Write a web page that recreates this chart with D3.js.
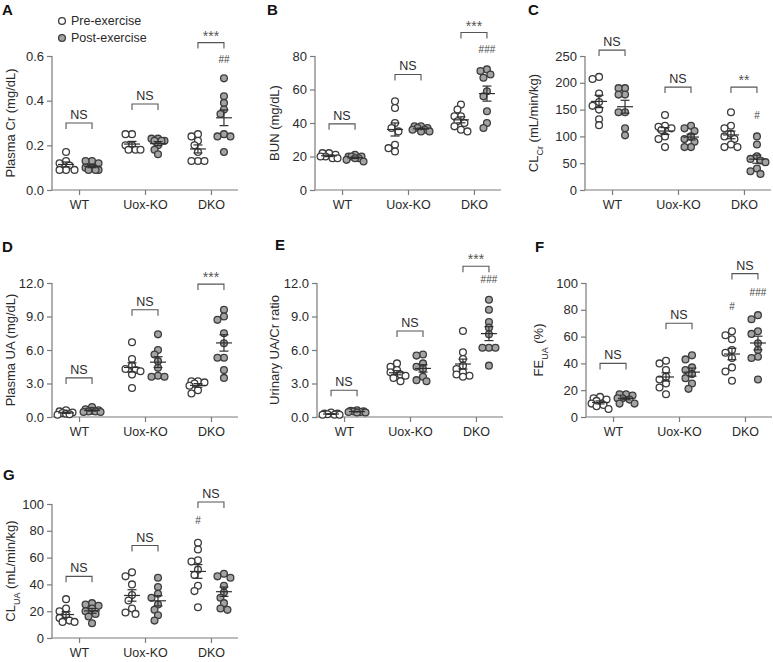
<!DOCTYPE html>
<html>
<head>
<meta charset="utf-8">
<script src="https://cdn.jsdelivr.net/npm/d3@7"></script>
<style>
  body { margin: 0; background: #fff; }
  svg { display: block; font-family: "Liberation Sans", Arial, Helvetica, sans-serif; }
</style>
</head>
<body>
<svg id="chart" width="773" height="662"></svg>
<script>
// ---------------- DATA ----------------
const categories = ["WT", "Uox-KO", "DKO"];
const groups = ["Pre-exercise", "Post-exercise"];

// A: Plasma Cr (mg/dL)
const crPre  = [[0.17, 0.13, 0.12, 0.11, 0.09, 0.09, 0.09],
                [0.25, 0.25, 0.20, 0.20, 0.18, 0.18, 0.18],
                [0.25, 0.24, 0.22, 0.20, 0.17, 0.13, 0.13, 0.13]];
const crPost = [[0.13, 0.13, 0.12, 0.10, 0.10, 0.09, 0.09, 0.09],
                [0.23, 0.23, 0.22, 0.22, 0.22, 0.20, 0.18, 0.16],
                [0.50, 0.42, 0.39, 0.36, 0.34, 0.25, 0.24, 0.24, 0.17]];
// B: BUN (mg/dL)
const bunPre  = [[22, 22, 21, 20, 20, 19, 19],
                 [53, 49, 40, 37, 35, 27, 25, 23],
                 [51, 48, 44, 44, 41, 40, 38, 36, 35]];
const bunPost = [[21, 20, 20, 20, 19, 19, 18, 17],
                 [38, 38, 37, 37, 36, 36, 35, 35],
                 [72, 71, 69, 67, 59, 56, 47, 40, 37]];
// C: CLCr (mL/min/kg)
const clcrPre  = [[211, 207, 180, 164, 157, 150, 132, 121],
                  [140, 120, 118, 115, 112, 100, 95, 80],
                  [145, 120, 115, 105, 100, 95, 85, 80, 80]];
const clcrPost = [[190, 190, 178, 178, 145, 145, 115, 102],
                  [120, 115, 110, 100, 95, 90, 80, 80],
                  [100, 85, 63, 58, 55, 52, 40, 35, 30]];
// D: Plasma UA (mg/dL)
const puaPre  = [[0.6, 0.5, 0.4, 0.35, 0.3, 0.25, 0.2],
                 [6.7, 5.2, 4.6, 4.3, 4.2, 4.1, 3.8, 2.6],
                 [3.2, 3.2, 3.1, 3.0, 2.8, 2.4, 2.1]];
const puaPost = [[0.9, 0.7, 0.6, 0.55, 0.5, 0.5, 0.45, 0.45],
                 [7.4, 6.0, 5.6, 5.0, 4.4, 3.7, 3.6, 3.6],
                 [9.6, 9.0, 8.7, 7.5, 6.6, 5.3, 5.3, 4.2, 3.5]];
// E: Urinary UA/Cr ratio
const uacrPre  = [[0.4, 0.3, 0.3, 0.25, 0.2, 0.2, 0.2],
                  [4.8, 4.5, 4.2, 4.0, 3.8, 3.7, 3.5, 3.2],
                  [7.7, 5.8, 5.2, 4.6, 4.3, 4.0, 3.8, 3.7, 3.6]];
const uacrPost = [[0.6, 0.55, 0.5, 0.5, 0.45, 0.45, 0.4, 0.4],
                  [5.6, 5.5, 4.8, 4.5, 4.3, 3.6, 3.3, 3.2],
                  [10.5, 9.6, 8.5, 8.0, 7.4, 6.2, 6.2, 6.2, 4.6]];
// F: FEUA (%)
const feuaPre  = [[15, 14, 13, 12, 10, 9, 8, 6],
                  [42, 40, 35, 30, 28, 25, 22, 17],
                  [64, 61, 58, 50, 48, 44, 37, 34, 27]];
const feuaPost = [[17, 17, 16, 14, 14, 13, 10, 10],
                  [46, 43, 37, 35, 32, 29, 25, 21],
                  [76, 73, 64, 62, 55, 50, 45, 44, 28]];
// G: CLUA (mL/min/kg)
const cluaPre  = [[29, 22, 20, 17, 15, 13, 12, 12],
                  [49, 46, 40, 32, 28, 22, 19, 18],
                  [71, 66, 58, 57, 51, 47, 39, 35, 23]];
const cluaPost = [[26, 25, 24, 22, 20, 18, 16, 11],
                  [45, 38, 33, 30, 25, 21, 17, 13],
                  [48, 46, 45, 39, 34, 30, 26, 22, 21]];

// tick labels
const ticksA = [0, 0.2, 0.4, 0.6];
const ticksB = [0, 20, 40, 60, 80];
const ticksC = [0, 50, 100, 150, 200, 250];
const ticksD = [0, 3, 6, 9, 12];
const ticksE = [0, 3, 6, 9, 12];
const ticksF = [0, 20, 40, 60, 80, 100];
const ticksG = [0, 20, 40, 60, 80, 100];

// significance annotations: [category index, bracket level (data units), label]
const sigA = [[0, 0.30, "NS"], [1, 0.385, "NS"], [2, 0.66, "***"]];
const sigB = [[0, 39.5, "NS"], [1, 69, "NS"], [2, 94, "***"]];
const sigC = [[0, 261, "NS"], [1, 192, "NS"], [2, 192, "**"]];
const sigD = [[0, 3.5, "NS"], [1, 9.6, "NS"], [2, 11.9, "***"]];
const sigE = [[0, 2.4, "NS"], [1, 7.7, "NS"], [2, 13.5, "***"]];
const sigF = [[0, 40, "NS"], [1, 70, "NS"], [2, 107, "NS"]];
const sigG = [[0, 46, "NS"], [1, 69, "NS"], [2, 101.5, "NS"]];
// hash marks vs WT: [category index, group index (0 pre / 1 post), level, label]
const hashA = [[2, 1, 0.57, "##"]];
const hashB = [[2, 1, 82, "###"]];
const hashC = [[2, 1, 132, "#"]];
const hashD = [];
const hashE = [[2, 1, 12.0, "###"]];
const hashF = [[2, 0, 80, "#"], [2, 1, 90, "###"]];
const hashG = [[2, 0, 85, "#"]];

// ---------------- LAYOUT / STYLE ----------------
const panels = [
  {letter: "A", lx: 2,   ly: 15,  left: 52,  top: 56,  bottom: 190, titleX: 10,  title: [["Plasma Cr (mg/dL)"]], max: 0.6, ticks: ticksA, fmt: ".1f", pre: crPre, post: crPost, sig: sigA, hash: hashA},
  {letter: "B", lx: 267, ly: 15,  left: 315, top: 56,  bottom: 190, titleX: 274, title: [["BUN (mg/dL)"]], max: 80, ticks: ticksB, fmt: "d", pre: bunPre, post: bunPost, sig: sigB, hash: hashB},
  {letter: "C", lx: 528, ly: 15,  left: 585, top: 56,  bottom: 190, titleX: 533, title: [["CL"], ["Cr", "sub"], [" (mL/min/kg)"]], max: 250, ticks: ticksC, fmt: "d", pre: clcrPre, post: clcrPost, sig: sigC, hash: hashC},
  {letter: "D", lx: 2,   ly: 252, left: 52,  top: 283, bottom: 417, titleX: 10,  title: [["Plasma UA (mg/dL)"]], max: 12, ticks: ticksD, fmt: ".1f", pre: puaPre, post: puaPost, sig: sigD, hash: hashD},
  {letter: "E", lx: 275, ly: 250, left: 317, top: 283, bottom: 417, titleX: 274, title: [["Urinary UA/Cr ratio"]], max: 12, ticks: ticksE, fmt: ".1f", pre: uacrPre, post: uacrPost, sig: sigE, hash: hashE},
  {letter: "F", lx: 535, ly: 252, left: 586, top: 283, bottom: 417, titleX: 538, title: [["FE"], ["UA", "sub"], [" (%)"]], max: 100, ticks: ticksF, fmt: "d", pre: feuaPre, post: feuaPost, sig: sigF, hash: hashF},
  {letter: "G", lx: 3,   ly: 480, left: 52,  top: 504, bottom: 638, titleX: 10,  title: [["CL"], ["UA", "sub"], [" (mL/min/kg)"]], max: 100, ticks: ticksG, fmt: "d", pre: cluaPre, post: cluaPost, sig: sigG, hash: hashG}
];

const AXIS = "#7a7a7a";
const TEXT = "#2a2a2a";
const DOT_STROKE = "#3c3c3c";
const POST_FILL = "#a3a3a3";
const R = 3.4;
const GROUP_OFF = 13;
const AXIS_W = 186;

const svg = d3.select("#chart");

// deterministic swarm: place points (sorted) at small offsets, overlap partly allowed
function swarm(values, y) {
  const placed = [];
  const sorted = values.map((v, i) => ({v, i})).sort((a, b) => b.v - a.v);
  const cands = [0, -3.5, 3.5, -6.5, 6.5, -8.5, 8.5];
  sorted.forEach(p => {
    const py = y(p.v);
    let best = null, bestD = -1;
    for (const dx of cands) {
      let minD = Infinity;
      for (const q of placed) {
        const d = Math.hypot(q.dx - dx, q.py - py);
        if (d < minD) minD = d;
      }
      if (minD >= 2 * R * 0.8) { best = dx; bestD = minD; break; }
      if (minD > bestD) { bestD = minD; best = dx; }
    }
    placed.push({v: p.v, py, dx: best});
  });
  return placed;
}

panels.forEach(p => {
  const g = svg.append("g");
  const x = d3.scalePoint().domain(categories).range([p.left, p.left + AXIS_W]).padding(0.41);
  const y = d3.scaleLinear().domain([0, p.max]).range([p.bottom, p.top]);

  // panel letter
  g.append("text").attr("x", p.lx).attr("y", p.ly).text(p.letter)
    .attr("font-size", 15).attr("font-weight", "bold").attr("fill", "#111");

  // y axis
  const ya = g.append("g").attr("transform", `translate(${p.left},0)`)
    .call(d3.axisLeft(y).tickValues(p.ticks).tickFormat(d3.format(p.fmt)).tickSize(5).tickPadding(3));
  // x axis
  const xa = g.append("g").attr("transform", `translate(0,${p.bottom})`)
    .call(d3.axisBottom(x).tickSize(5).tickPadding(5).tickSizeOuter(0));
  [ya, xa].forEach(a => {
    a.select(".domain").attr("stroke", AXIS).attr("stroke-width", 1.2);
    a.selectAll(".tick line").attr("stroke", AXIS).attr("stroke-width", 1.2);
    a.selectAll(".tick text").attr("fill", TEXT).attr("font-size", 13)
      .attr("font-family", "'Liberation Sans', Arial, sans-serif");
  });
  xa.selectAll(".tick text").attr("font-size", 12.5);
  ya.select(".domain").attr("d", `M-0,${p.bottom}V${p.top}`);
  xa.select(".domain").attr("d", `M${p.left},0H${p.left + AXIS_W}`);

  // y title
  const t = g.append("text")
    .attr("transform", `translate(${p.titleX},${(p.top + p.bottom) / 2}) rotate(-90)`)
    .attr("text-anchor", "middle").attr("dy", "0.35em")
    .attr("font-size", 13).attr("fill", TEXT);
  p.title.forEach(part => {
    const ts = t.append("tspan").text(part[0]);
    if (part[1] === "sub") ts.attr("font-size", 9).attr("baseline-shift", "sub");
  });

  // data
  [p.pre, p.post].forEach((series, gi) => {
    series.forEach((vals, ci) => {
      const cx = x(categories[ci]) + (gi === 0 ? -GROUP_OFF : GROUP_OFF);
      const pts = swarm(vals, y);
      g.selectAll(null).data(pts).join("circle")
        .attr("cx", d => cx + d.dx).attr("cy", d => d.py).attr("r", R)
        .attr("fill", gi === 0 ? "#fff" : POST_FILL)
        .attr("stroke", DOT_STROKE).attr("stroke-width", 1.3);
      // mean ± SEM
      const m = d3.mean(vals);
      const sem = d3.deviation(vals) / Math.sqrt(vals.length);
      const eg = g.append("g").attr("stroke", "#2f2f2f").attr("stroke-width", 1.2).attr("fill", "none");
      eg.append("line").attr("x1", cx - 8).attr("x2", cx + 8).attr("y1", y(m)).attr("y2", y(m));
      eg.append("line").attr("x1", cx).attr("x2", cx).attr("y1", y(m - sem)).attr("y2", y(m + sem));
      eg.append("line").attr("x1", cx - 4.5).attr("x2", cx + 4.5).attr("y1", y(m - sem)).attr("y2", y(m - sem));
      eg.append("line").attr("x1", cx - 4.5).attr("x2", cx + 4.5).attr("y1", y(m + sem)).attr("y2", y(m + sem));
    });
  });

  // significance brackets
  p.sig.forEach(([ci, lvl, lab]) => {
    const cx = x(categories[ci]);
    const yy = y(lvl);
    g.append("path")
      .attr("d", `M${cx - GROUP_OFF},${yy + 6}V${yy}H${cx + GROUP_OFF}V${yy + 6}`)
      .attr("fill", "none").attr("stroke", "#555").attr("stroke-width", 1.1);
    const isStar = lab.indexOf("*") >= 0;
    g.append("text").attr("x", cx).attr("y", isStar ? yy - 2 : yy - 4)
      .attr("text-anchor", "middle").attr("font-size", isStar ? 14 : 12.5)
      .attr("fill", isStar ? "#555" : TEXT).text(lab);
  });
  p.hash.forEach(([ci, gi, lvl, lab]) => {
    const cx = x(categories[ci]) + (gi === 0 ? -GROUP_OFF : GROUP_OFF);
    g.append("text").attr("x", cx).attr("y", y(lvl))
      .attr("text-anchor", "middle").attr("font-size", 10).attr("fill", "#444").text(lab);
  });
});

// legend (panel A)
const legend = svg.append("g");
groups.forEach((name, i) => {
  const ly = 21 + i * 17;
  legend.append("circle").attr("cx", 62).attr("cy", ly).attr("r", R)
    .attr("fill", i === 0 ? "#fff" : POST_FILL).attr("stroke", DOT_STROKE).attr("stroke-width", 1.3);
  legend.append("text").attr("x", 71).attr("y", ly).attr("dy", "0.35em")
    .attr("font-size", 12.5).attr("fill", TEXT).text(name);
});
</script>
</body>
</html>
